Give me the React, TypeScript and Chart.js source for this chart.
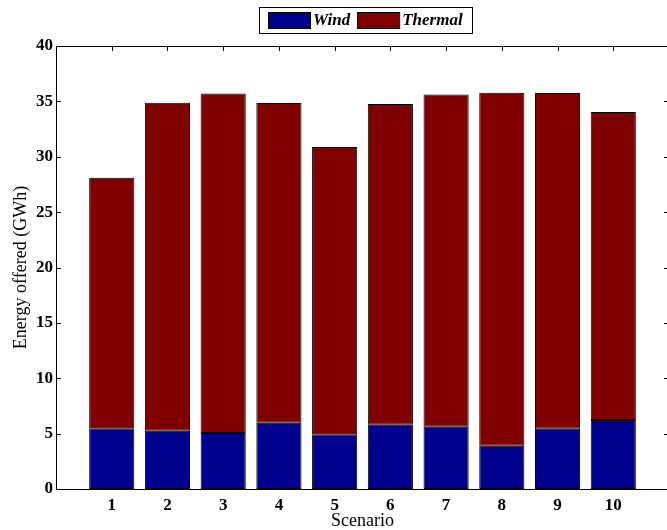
import React, { useEffect, useRef } from 'react';
import { Chart, registerables } from 'chart.js';

Chart.register(...registerables);

const scenarios = [1, 2, 3, 4, 5, 6, 7, 8, 9, 10];
const windValues = [5.48, 5.27, 5.06, 5.99, 4.94, 5.81, 5.63, 3.91, 5.45, 6.23];
const thermalValues = [22.62, 29.61, 30.66, 28.86, 25.93, 28.95, 30.0, 31.87, 30.3, 27.81];
const yTickValues = [0, 5, 10, 15, 20, 25, 30, 35, 40];
const seriesLabels = ['Wind', 'Thermal'];
const seriesColors = ['rgb(0,0,143)', 'rgb(128,0,0)'];

const SERIF = "'Liberation Serif', 'Times New Roman', serif";

const framePlugin = {
  id: 'matlabFrame',
  beforeDatasetsDraw(chart: any) {
    const { ctx, chartArea, scales } = chart;
    const { left, right, top, bottom } = chartArea;
    const x = scales.x;
    const y = scales.y;
    ctx.save();
    ctx.strokeStyle = '#000';
    ctx.lineWidth = 1;
    ctx.beginPath();
    for (const s of scenarios) {
      const px = Math.round(x.getPixelForValue(s)) + 0.5;
      ctx.moveTo(px, bottom);
      ctx.lineTo(px, bottom - 5);
      ctx.moveTo(px, top);
      ctx.lineTo(px, top + 5);
    }
    for (const v of yTickValues) {
      const py = Math.round(y.getPixelForValue(v)) + 0.5;
      ctx.moveTo(left, py);
      ctx.lineTo(left + 5, py);
      ctx.moveTo(right, py);
      ctx.lineTo(right - 5, py);
    }
    ctx.stroke();
    ctx.restore();
  },
  afterDatasetsDraw(chart: any) {
    const { ctx, chartArea } = chart;
    const { left, right, top, bottom } = chartArea;
    ctx.save();
    ctx.strokeStyle = '#000';
    ctx.lineWidth = 1;
    ctx.strokeRect(Math.round(left) + 0.5, Math.round(top) + 0.5, Math.round(right - left), Math.round(bottom - top));
    ctx.restore();
  },
  afterDraw(chart: any) {
    const ctx = chart.ctx;
    ctx.save();
    ctx.font = `italic bold 17px ${SERIF}`;
    const datasets = chart.data.datasets;
    const swW = 42, swH = 16, gapText = 3, gapItem = 7, padL = 9, padR = 9;
    const widths = datasets.map((d: any) => ctx.measureText(d.label).width);
    let total = padL + padR + gapItem * (datasets.length - 1);
    widths.forEach((w: number) => { total += swW + gapText + w; });
    const cx = 365;
    const boxLeft = Math.round(cx - total / 2);
    const boxTop = 7, boxH = 26;
    ctx.fillStyle = '#fff';
    ctx.fillRect(boxLeft, boxTop, total, boxH);
    ctx.strokeStyle = '#000';
    ctx.lineWidth = 1;
    ctx.strokeRect(boxLeft + 0.5, boxTop + 0.5, Math.round(total), boxH);
    let xPos = boxLeft + padL;
    const midY = boxTop + boxH / 2;
    datasets.forEach((d: any, i: number) => {
      ctx.fillStyle = d.backgroundColor;
      ctx.fillRect(xPos, midY - swH / 2, swW, swH);
      ctx.strokeStyle = '#000';
      ctx.strokeRect(xPos + 0.5, midY - swH / 2 + 0.5, swW, swH);
      xPos += swW + gapText;
      ctx.fillStyle = '#000';
      ctx.textBaseline = 'middle';
      ctx.textAlign = 'left';
      ctx.fillText(d.label, xPos, midY + 1);
      xPos += widths[i] + gapItem;
    });
    ctx.restore();
  },
};

export default function App() {
  const canvasRef = useRef<HTMLCanvasElement | null>(null);

  useEffect(() => {
    const canvas = canvasRef.current;
    if (!canvas) return;
    const chart = new Chart(canvas, {
      type: 'bar',
      data: {
        datasets: [
          {
            label: seriesLabels[0],
            data: scenarios.map((s, i) => ({ x: s, y: windValues[i] })),
            backgroundColor: seriesColors[0],
            borderColor: '#000',
            borderWidth: 1,
            borderSkipped: false,
          },
          {
            label: seriesLabels[1],
            data: scenarios.map((s, i) => ({ x: s, y: thermalValues[i] })),
            backgroundColor: seriesColors[1],
            borderColor: '#000',
            borderWidth: 1,
            borderSkipped: false,
          },
        ],
      },
      options: {
        responsive: false,
        animation: false,
        devicePixelRatio: 1,
        layout: { padding: { top: 46, left: 0, right: 0, bottom: 0 } },
        categoryPercentage: 1,
        barPercentage: 0.81,
        plugins: {
          legend: { display: false },
          tooltip: { enabled: false },
        },
        scales: {
          x: {
            type: 'linear',
            min: 0,
            max: 11,
            offset: false,
            stacked: true,
            grid: { display: false, drawTicks: false, offset: false },
            border: { display: false },
            ticks: {
              stepSize: 1,
              autoSkip: false,
              color: '#000',
              padding: 6,
              font: { family: SERIF, size: 17, weight: 'bold' },
              callback: (v: any) => (scenarios.includes(Number(v)) ? String(v) : ''),
            },
            title: {
              display: true,
              text: 'Scenario',
              color: '#000',
              font: { family: SERIF, size: 18, lineHeight: 1 },
              padding: { top: 0, bottom: 0 },
            },
            afterFit: (s: any) => {
              s.height = 41;
              s.paddingLeft = 0;
              s.paddingRight = 0;
            },
          },
          y: {
            type: 'linear',
            min: 0,
            max: 40,
            stacked: true,
            grid: { display: false, drawTicks: false },
            border: { display: false },
            ticks: {
              stepSize: 5,
              color: '#000',
              padding: 3,
              font: { family: SERIF, size: 17, weight: 'bold' },
            },
            title: {
              display: true,
              text: 'Energy offered (GWh)',
              color: '#000',
              font: { family: SERIF, size: 18, lineHeight: 1 },
              padding: { top: 12, bottom: 0 },
            },
            afterFit: (s: any) => { s.width = 56; },
          },
        },
      } as any,
      plugins: [framePlugin],
    });
    return () => chart.destroy();
  }, []);

  return (
    <div style={{ position: 'absolute', left: 0, top: 0, width: 667, height: 530, overflow: 'hidden', background: '#fff' }}>
      <canvas ref={canvasRef} width={669} height={530} style={{ width: 669, height: 530, display: 'block' }} />
    </div>
  );
}
